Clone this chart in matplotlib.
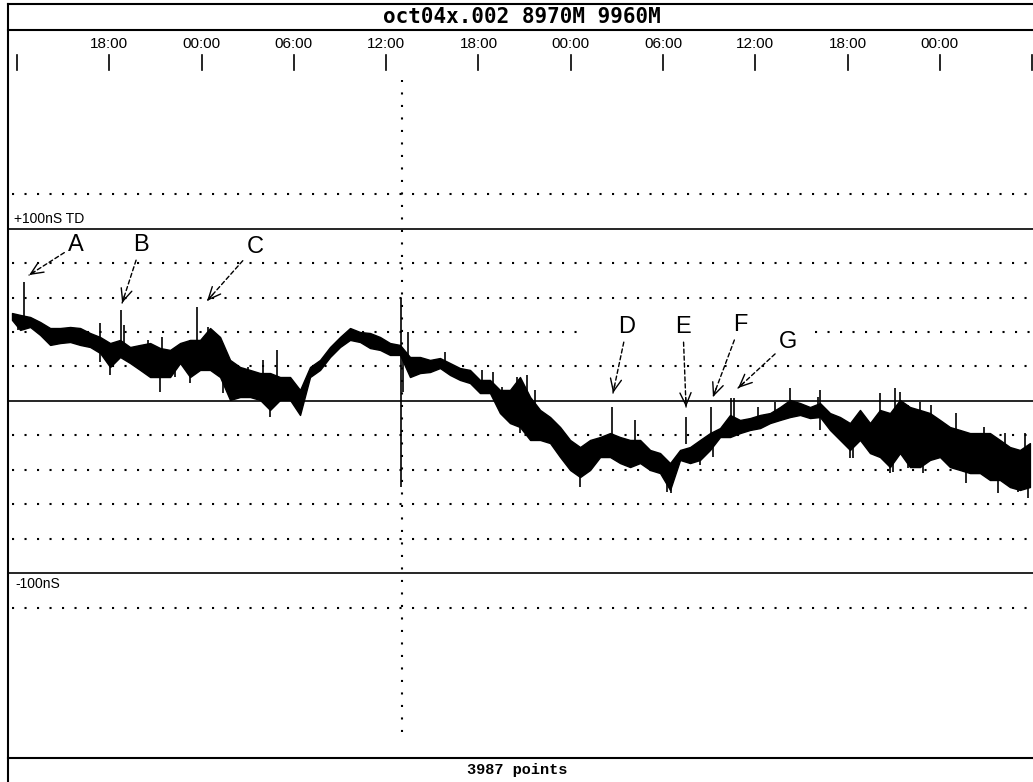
import matplotlib.pyplot as plt
from matplotlib.lines import Line2D

# ================= DATA =================
TITLE = "oct04x.002 8970M 9960M"
FOOTER = "3987 points"

# time axis: hours after 12:00 on the first day
TICK_HOURS = [0, 6, 12, 18, 24, 30, 36, 42, 48, 54, 60, 66]
TICK_LABELS = ["", "18:00", "00:00", "06:00", "12:00", "18:00",
               "00:00", "06:00", "12:00", "18:00", "00:00", ""]

# noisy TD trace: time (h), top / bottom of the band (nS)
TRACE_HOURS = [-0.33, 0.20, 0.85, 1.50, 2.15, 2.80, 3.45, 4.10, 4.75, 5.40,
               6.05, 6.70, 7.35, 8.00, 8.65, 9.30, 9.95, 10.60, 11.25, 11.90,
               12.55, 13.20, 13.85, 14.50, 15.15, 15.80, 16.45, 17.10, 17.75, 18.40,
               19.05, 19.70, 20.35, 21.00, 21.65, 22.30, 22.95, 23.60, 24.25, 24.90,
               25.55, 26.20, 26.85, 27.50, 28.15, 28.80, 29.45, 30.10, 30.75, 31.40,
               32.05, 32.70, 33.36, 34.01, 34.66, 35.31, 35.96, 36.61, 37.26, 37.91,
               38.56, 39.21, 39.86, 40.51, 41.16, 41.81, 42.46, 43.11, 43.76, 44.41,
               45.06, 45.71, 46.36, 47.01, 47.66, 48.31, 48.96, 49.61, 50.26, 50.91,
               51.56, 52.21, 52.86, 53.51, 54.16, 54.81, 55.46, 56.11, 56.76, 57.41,
               58.06, 58.71, 59.36, 60.01, 60.66, 61.31, 61.96, 62.61, 63.26, 63.91,
               64.56, 65.21, 65.86]
TRACE_UPPER = [51.0, 49.9, 48.7, 45.8, 42.3, 42.3, 42.9, 42.3, 39.4, 37.1,
               33.6, 35.4, 31.3, 32.5, 33.6, 30.7, 29.6, 33.6, 35.4, 35.4,
               42.3, 37.1, 23.8, 19.7, 18.0, 16.2, 16.2, 13.9, 13.9, 6.4,
               19.7, 23.8, 31.3, 37.1, 42.3, 40.0, 39.4, 37.1, 33.6, 32.5,
               25.5, 25.5, 23.8, 24.9, 22.0, 19.1, 18.0, 12.2, 12.2, 6.4,
               6.4, 13.9, 2.3, -5.2, -9.3, -15.1, -22.6, -26.7, -22.6, -20.9,
               -18.6, -20.9, -22.6, -22.6, -28.4, -30.2, -36.0, -28.4, -26.7, -22.6,
               -18.6, -15.7, -8.1, -11.0, -9.9, -8.1, -7.0, -3.5, 0.6, -1.2,
               -3.5, -1.2, -7.0, -9.3, -12.8, -5.2, -12.8, -5.2, -7.0, 0.6,
               -3.5, -5.2, -7.0, -11.0, -15.1, -16.8, -18.6, -18.6, -18.6, -22.6,
               -26.7, -28.4, -24.4]
TRACE_LOWER = [47.0, 41.2, 42.9, 38.3, 32.5, 33.6, 34.2, 32.5, 31.3, 27.8,
               19.7, 25.5, 22.0, 18.0, 13.9, 13.9, 13.9, 22.0, 13.9, 18.0,
               18.0, 13.9, 0.6, 2.3, 2.3, 0.6, -5.2, 0.6, 0.6, -8.1,
               13.9, 18.0, 25.5, 31.3, 35.4, 34.2, 30.7, 29.6, 26.7, 26.7,
               13.9, 16.2, 16.8, 19.1, 15.1, 12.2, 10.4, 4.6, 4.6, -7.0,
               -12.8, -15.1, -22.6, -22.6, -24.4, -32.5, -40.0, -44.1, -40.0, -32.5,
               -32.5, -36.0, -38.3, -36.0, -40.0, -41.8, -51.6, -34.2, -36.0, -34.2,
               -28.4, -20.9, -20.9, -18.6, -16.8, -15.7, -12.8, -11.0, -9.3, -8.1,
               -9.9, -9.3, -16.8, -22.6, -28.4, -22.6, -30.2, -32.5, -38.3, -30.2,
               -38.3, -38.3, -34.2, -32.5, -38.3, -40.0, -41.8, -41.8, -45.8, -45.8,
               -49.9, -51.6, -49.9]

# isolated spikes: time (h), low and high end (nS)
SPIKE_HOURS = [0.05, 0.46, 5.40, 6.05, 6.76, 6.96, 8.52, 9.30, 9.43, 10.25,
               11.25, 11.70, 12.44, 13.39, 14.05, 15.02, 16.00, 16.45, 16.91, 24.97,
               25.10, 25.42, 27.83, 30.21, 30.95, 31.51, 32.49, 32.70, 33.16, 33.68,
               36.61, 38.69, 40.18, 42.24, 42.52, 43.50, 44.41, 45.12, 45.25, 46.42,
               46.60, 48.20, 49.29, 50.26, 52.08, 52.21, 54.16, 54.36, 56.11, 56.76,
               56.96, 57.09, 57.41, 57.93, 58.71, 58.91, 59.45, 61.07, 61.72, 62.87,
               63.78, 64.22, 65.08, 65.54, 65.73]
SPIKE_LOW = [41.2, 45.0, 22.6, 15.1, 28.0, 25.0, 20.0, 5.2, 20.0, 14.1,
             10.4, 25.0, 25.0, 4.6, 0.6, 5.0, 5.0, -9.3, 8.0, -49.9,
             5.4, 20.0, 18.0, 8.0, 6.0, -8.1, 0.0, -18.6, 0.0, -10.0,
             -49.9, -25.0, -25.0, -52.6, -53.4, -25.0, -37.0, -28.0, -32.5, -20.0,
             -20.0, -12.0, -10.0, -8.0, -8.0, -16.8, -33.1, -33.0, -20.0, -41.8,
             -41.2, -20.0, -20.0, -38.9, -20.0, -41.8, -20.0, -25.0, -47.6, -30.0,
             -53.4, -30.0, -52.8, -40.0, -56.3]
SPIKE_HIGH = [49.9, 69.0, 45.2, 30.0, 52.8, 44.1, 35.4, 25.0, 37.1, 30.0,
              35.4, 54.5, 43.1, 20.0, 20.0, 19.7, 23.8, 10.0, 29.6, 59.7,
              30.0, 40.0, 28.4, 18.0, 16.8, 8.0, 13.9, 0.0, 15.1, 6.4,
              -35.0, -3.5, -11.0, -35.0, -40.0, -9.3, -25.0, -3.5, -20.0, 1.7,
              1.7, -3.5, -0.4, 7.5, 2.3, 6.4, -15.0, -15.0, 4.6, -10.0,
              -20.0, 7.5, 5.2, -2.3, -0.6, -20.0, -2.3, -7.0, -30.0, -15.1,
              -35.0, -18.6, -35.0, -18.6, -35.0]

GRID_SOLID = [100, 0, -100]
GRID_DOTTED = [120, 80, 60, 20, -20, -40, -60, -80, -120]
MARKER_HOUR = 25.0

# annotation letters: (letter, arrow tip, letter position) in (h, nS)
LABELS = [
    ("A", (0.78, 73.0), (3.84, 90.4)),
    ("B", (6.83, 56.8), (8.06, 90.4)),
    ("C", (12.35, 58.0), (15.47, 89.3)),
    ("D", (38.75, 4.6), (39.66, 42.9)),
    ("E", (43.50, -3.5), (43.30, 42.9)),
    ("F", (45.25, 2.3), (47.01, 44.1)),
    ("G", (46.88, 7.5), (50.13, 34.2)),
]
# ========================================

W, H = 1033, 782
fig = plt.figure(figsize=(W / 100, H / 100), dpi=100)
fig.patch.set_facecolor("white")

# plot area sits between the title bar and the footer bar
ax = fig.add_axes([8 / W, (H - 758) / H, (W - 8) / W, (758 - 30) / H])
ax.set_xlim(-0.59, 66.06)
ax.set_ylim(-207.0, 215.1)
ax.axis("off")

dots = (0, (1, 5))
x0, x1 = -0.33, 65.86
for lvl in GRID_DOTTED:
    ax.hlines(lvl, x0, x1, colors="black", linestyles=dots, lw=1.5)
# the 40 nS row is blanked where the D-G labels sit
ax.hlines(40, x0, 36.93, colors="black", linestyles=dots, lw=1.5)
ax.hlines(40, 51.89, x1, colors="black", linestyles=dots, lw=1.5)
for lvl in GRID_SOLID:
    ax.axhline(lvl, color="black", lw=1.2)
ax.vlines(MARKER_HOUR, -191.9, 186.1, colors="black", linestyles=dots, lw=1.5)

ax.text(-0.2, 105.5, "+100nS TD", fontsize=10, family="Liberation Sans", va="center")
ax.text(-0.13, -106.1, "-100nS", fontsize=10, family="Liberation Sans", va="center")

# time ticks along the top edge
tr = ax.get_xaxis_transform()
for h, lab in zip(TICK_HOURS, TICK_LABELS):
    ax.plot([h, h], [0.9451, 0.9657], color="black", lw=1.2, transform=tr)
    if lab:
        ax.text(h, 0.9808, lab, transform=tr, ha="center", va="center",
                fontsize=11, family="Liberation Sans")

# trace
ax.fill_between(TRACE_HOURS, TRACE_LOWER, TRACE_UPPER, color="black", lw=1.0)
ax.vlines(SPIKE_HOURS, SPIKE_LOW, SPIKE_HIGH, colors="black", lw=1.2)

# letters with a dashed shaft and a solid open head
for letter, tip, pos in LABELS:
    ax.annotate(letter, xy=tip, xytext=pos, ha="center", va="center",
                fontsize=17, family="Liberation Sans",
                arrowprops=dict(arrowstyle="-", ls=(0, (3, 2)), lw=1.0,
                                color="black", shrinkA=1, shrinkB=0))
    near = (tip[0] + 0.12 * (pos[0] - tip[0]), tip[1] + 0.12 * (pos[1] - tip[1]))
    ax.annotate("", xy=tip, xytext=near,
                arrowprops=dict(arrowstyle="->,head_length=0.9,head_width=0.4",
                                lw=1.0, color="black", shrinkA=0, shrinkB=0))

# window frame, title bar and footer bar
for xs, ys in [([8 / W, 8 / W], [0, 1 - 4 / H]),
               ([8 / W, 1], [1 - 4 / H, 1 - 4 / H]),
               ([8 / W, 1], [1 - 30 / H, 1 - 30 / H]),
               ([8 / W, 1], [1 - 758 / H, 1 - 758 / H])]:
    fig.add_artist(Line2D(xs, ys, color="black", lw=1.5))

fig.text(522 / W, 1 - 17 / H, TITLE, ha="center", va="center",
         fontsize=15, family="DejaVu Sans Mono", weight="bold")
fig.text(517 / W, 1 - 770 / H, FOOTER, ha="center", va="center",
         fontsize=11, family="Liberation Mono", weight="bold")

fig.savefig("out.png", dpi=100, facecolor="white")
